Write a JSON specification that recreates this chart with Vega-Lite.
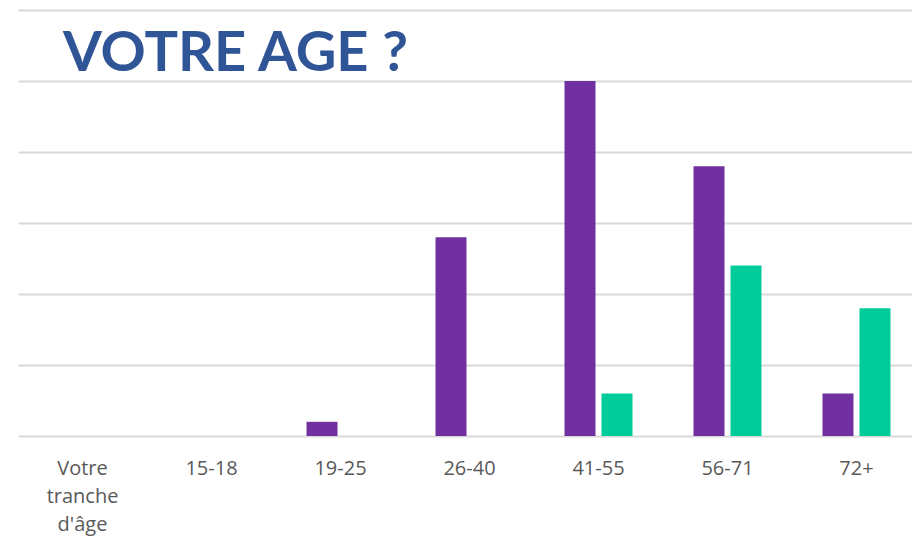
{
  "$schema": "https://vega.github.io/schema/vega-lite/v6.json",
  "width": 893,
  "height": 426,
  "autosize": {"type": "none"},
  "padding": {"left": 19, "top": 10, "right": 0, "bottom": 100},
  "background": "white",
  "title": {
    "text": "VOTRE AGE ?",
    "anchor": "start",
    "frame": "group",
    "orient": "top",
    "baseline": "alphabetic",
    "offset": 0,
    "dx": 44,
    "dy": 117,
    "font": "Lato",
    "fontSize": 56,
    "fontWeight": "bold",
    "color": "#2F5597"
  },
  "data": {
    "values": [
      {"tranche": "Votre tranche d'âge", "serie": "Série 1", "valeur": 0},
      {"tranche": "Votre tranche d'âge", "serie": "Série 2", "valeur": 0},
      {"tranche": "15-18", "serie": "Série 1", "valeur": 0},
      {"tranche": "15-18", "serie": "Série 2", "valeur": 0},
      {"tranche": "19-25", "serie": "Série 1", "valeur": 1},
      {"tranche": "19-25", "serie": "Série 2", "valeur": 0},
      {"tranche": "26-40", "serie": "Série 1", "valeur": 14},
      {"tranche": "26-40", "serie": "Série 2", "valeur": 0},
      {"tranche": "41-55", "serie": "Série 1", "valeur": 25},
      {"tranche": "41-55", "serie": "Série 2", "valeur": 3},
      {"tranche": "56-71", "serie": "Série 1", "valeur": 19},
      {"tranche": "56-71", "serie": "Série 2", "valeur": 12},
      {"tranche": "72+", "serie": "Série 1", "valeur": 3},
      {"tranche": "72+", "serie": "Série 2", "valeur": 9}
    ]
  },
  "mark": {"type": "bar"},
  "encoding": {
    "x": {
      "field": "tranche",
      "type": "nominal",
      "sort": null,
      "scale": {
        "domain": ["Votre tranche d'âge", "15-18", "19-25", "26-40", "41-55", "56-71", "72+"],
        "range": [-1, 902],
        "paddingInner": 0.473,
        "paddingOuter": 0.2365
      },
      "axis": {
        "title": null,
        "labelAngle": 0,
        "labelExpr": "split(datum.label, ' ')",
        "labelFont": "Open Sans",
        "labelFontSize": 20,
        "labelColor": "#595959",
        "labelLineHeight": 28,
        "labelPadding": 22,
        "labelBaseline": "top",
        "ticks": false,
        "domain": false,
        "grid": false
      }
    },
    "xOffset": {
      "field": "serie",
      "type": "nominal",
      "scale": {"paddingInner": 0.162, "paddingOuter": 0}
    },
    "y": {
      "field": "valeur",
      "type": "quantitative",
      "scale": {"domain": [0, 30], "nice": false},
      "axis": {
        "title": null,
        "labels": false,
        "ticks": false,
        "domain": false,
        "values": [0, 5, 10, 15, 20, 25, 30],
        "grid": true,
        "gridColor": "#d9d9d9",
        "gridWidth": 2
      }
    },
    "color": {
      "field": "serie",
      "type": "nominal",
      "scale": {"domain": ["Série 1", "Série 2"], "range": ["#7030A0", "#00CC99"]},
      "legend": null
    }
  },
  "config": {"view": {"stroke": null}}
}
